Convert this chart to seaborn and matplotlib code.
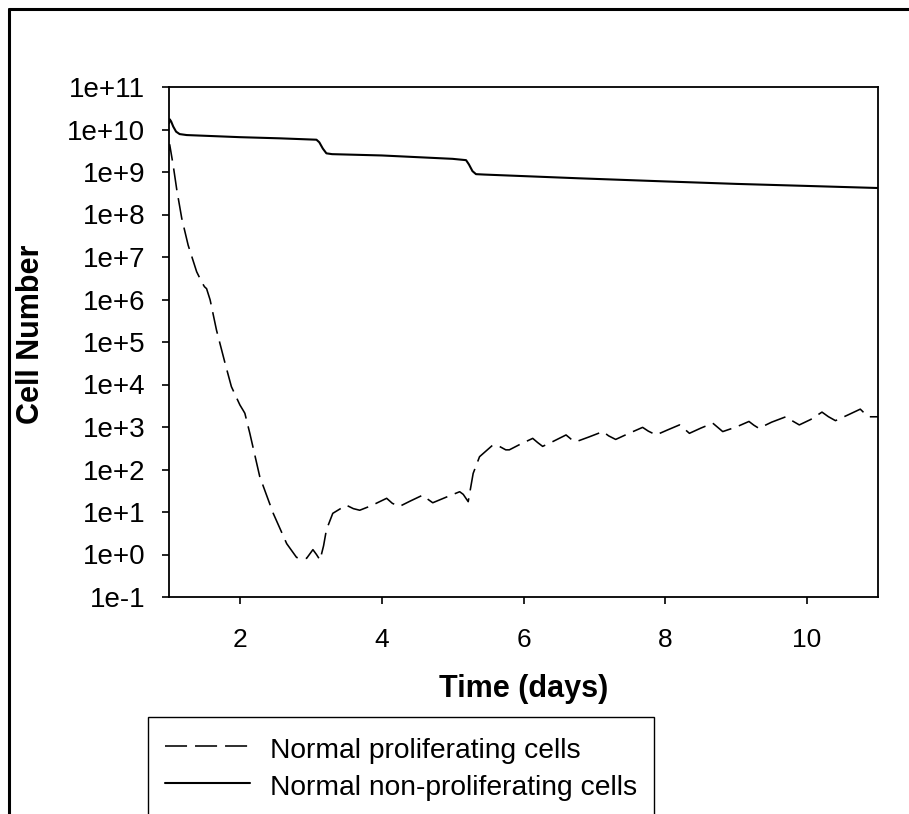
import numpy as np
import pandas as pd
import matplotlib
matplotlib.use("Agg")
import matplotlib.pyplot as plt
from matplotlib.lines import Line2D
import seaborn as sns

# Normal proliferating cells (dashed)
t_prolif = [1.00, 1.01, 1.06, 1.11, 1.18, 1.27, 1.39, 1.46, 1.50, 1.53, 1.58, 1.67,
            1.79, 1.88, 2.00, 2.05, 2.07, 2.14, 2.28, 2.47, 2.66, 2.80, 2.94, 3.03,
            3.08, 3.13, 3.18, 3.22, 3.31, 3.50, 3.60, 3.69, 3.85, 4.07, 4.15, 4.25,
            4.40, 4.58, 4.65, 4.72, 4.90, 5.10, 5.15, 5.22, 5.29, 5.38, 5.57, 5.66,
            5.75, 5.80, 5.95, 6.13, 6.20, 6.27, 6.42, 6.60, 6.67, 6.74, 6.92, 7.12,
            7.20, 7.30, 7.48, 7.68, 7.76, 7.87, 8.03, 8.20, 8.27, 8.34, 8.50, 8.67,
            8.74, 8.81, 9.00, 9.18, 9.25, 9.32, 9.50, 9.70, 9.79, 9.89, 10.05, 10.21,
            10.30, 10.40, 10.57, 10.75, 10.81, 10.87, 11.00]
n_prolif = [3.2e9, 4.4e9, 1.4e9, 3.8e8, 8.1e7, 1.9e7, 4.5e6, 2.6e6, 2.0e6, 1.8e6, 9.8e5, 1.9e5,
            3.2e4, 8.9e3, 3.3e3, 2.4e3, 2.1e3, 7.1e2, 6.8e1, 9.3e0, 1.8e0, 8.5e-1, 8.1e-1, 1.3e0,
            1.0e0, 7.4e-1, 1.6e0, 3.8e0, 9.3e0, 1.45e1, 1.2e1, 1.1e1, 1.4e1, 2.1e1, 1.6e1, 1.35e1,
            1.8e1, 2.5e1, 2.0e1, 1.65e1, 2.2e1, 3.0e1, 2.6e1, 1.75e1, 8.1e1, 2.0e2, 3.8e2, 3.5e2,
            2.9e2, 2.9e2, 3.9e2, 5.4e2, 4.3e2, 3.5e2, 4.6e2, 6.5e2, 5.2e2, 4.5e2, 5.8e2, 7.8e2,
            6.2e2, 5.1e2, 7.0e2, 9.8e2, 8.0e2, 6.5e2, 8.5e2, 1.12e3, 9.0e2, 7.1e2, 9.4e2, 1.23e3,
            9.8e2, 7.8e2, 1.0e3, 1.35e3, 1.1e3, 9.3e2, 1.3e3, 1.74e3, 1.4e3, 1.12e3, 1.5e3, 2.24e3,
            1.75e3, 1.41e3, 1.9e3, 2.63e3, 2.1e3, 1.74e3, 1.74e3]

# Normal non-proliferating cells (solid)
t_quiet = [1.00, 1.01, 1.03, 1.06, 1.10, 1.15, 1.25, 2.00, 2.56, 3.08, 3.12, 3.17,
           3.22, 3.30, 4.00, 5.00, 5.19, 5.23, 5.28, 5.33, 5.45, 6.79, 8.00, 9.00,
           10.00, 11.00]
n_quiet = [1.40e10, 1.74e10, 1.55e10, 1.17e10, 8.9e9, 7.8e9, 7.4e9, 6.6e9, 6.2e9, 5.75e9, 5.0e9, 3.55e9,
           2.75e9, 2.63e9, 2.45e9, 2.04e9, 1.90e9, 1.51e9, 1.05e9, 8.9e8, 8.7e8, 7.1e8, 6.0e8, 5.25e8,
           4.7e8, 4.2e8]

labels = ["Normal proliferating cells", "Normal non-proliferating cells"]
y_ticks = [10.0 ** k for k in range(-1, 12)]
y_tick_labels = [f"1e{k:+d}" for k in range(-1, 12)]
x_ticks = [2, 4, 6, 8, 10]

sns.set_style("ticks")
plt.rcParams["font.family"] = ["Liberation Sans", "DejaVu Sans"]
plt.rcParams.update({"text.color": "black", "axes.labelcolor": "black",
                     "xtick.color": "black", "ytick.color": "black",
                     "axes.edgecolor": "black"})

W, H = 909, 814
fig = plt.figure(figsize=(W / 100, H / 100), dpi=100)
ax = fig.add_axes([169 / W, 1 - 597 / H, (878 - 169) / W, (597 - 87) / H])
ax.set_yscale("log")

dash_lw = 1.15
sns.lineplot(x=t_prolif, y=n_prolif, ax=ax, color="black", linewidth=dash_lw,
             linestyle=(0, (13.8, 5.0)), estimator=None, sort=False, legend=False)
sns.lineplot(x=t_quiet, y=n_quiet, ax=ax, color="black", linewidth=1.5,
             estimator=None, sort=False, legend=False)

ax.set_xlim(1, 11)
ax.set_ylim(1e-1, 1e11)
ax.set_xticks(x_ticks)
ax.set_xticklabels([str(v) for v in x_ticks])
ax.set_yticks(y_ticks)
ax.set_yticklabels(y_tick_labels)
ax.yaxis.set_minor_locator(matplotlib.ticker.NullLocator())

for s in ax.spines.values():
    s.set_linewidth(1.3)
    s.set_color("black")
ax.tick_params(axis="both", direction="out", length=5, width=1.2, color="black",
               labelcolor="black", top=False, right=False)
ax.tick_params(axis="x", labelsize=19, pad=17)
ax.tick_params(axis="y", labelsize=20, pad=12)

ax.set_xlabel("Time (days)", fontsize=22, fontweight="bold", color="black")
ax.set_ylabel("Cell Number", fontsize=22, fontweight="bold", color="black")
ax.xaxis.set_label_coords(0.5, -0.151)
ax.yaxis.set_label_coords(-0.173, 0.515)

handles = [Line2D([], [], color="black", linewidth=dash_lw, linestyle=(0, (13.8, 5.0))),
           Line2D([], [], color="black", linewidth=1.5)]
leg = fig.legend(handles, labels, loc="upper left",
                 bbox_to_anchor=(148 / W, 1 - 717 / H), bbox_transform=fig.transFigure,
                 borderaxespad=0, fontsize=20.3, frameon=True, fancybox=False,
                 framealpha=1, edgecolor="black", borderpad=0.6, handlelength=3.0,
                 handleheight=1.2, handletextpad=0.72, labelspacing=0.24)
leg.get_frame().set_linewidth(1.0)
for txt in leg.get_texts():
    txt.set_color("black")

# outer border (top and left edges visible, rest runs off the image)
fig.add_artist(Line2D([8.5 / W, 1.0], [1 - 8.5 / H, 1 - 8.5 / H], color="black",
                      linewidth=2.2, transform=fig.transFigure))
fig.add_artist(Line2D([8.5 / W, 8.5 / W], [0.0, 1 - 8.5 / H], color="black",
                      linewidth=2.2, transform=fig.transFigure))

fig.savefig("out.png", dpi=100)
